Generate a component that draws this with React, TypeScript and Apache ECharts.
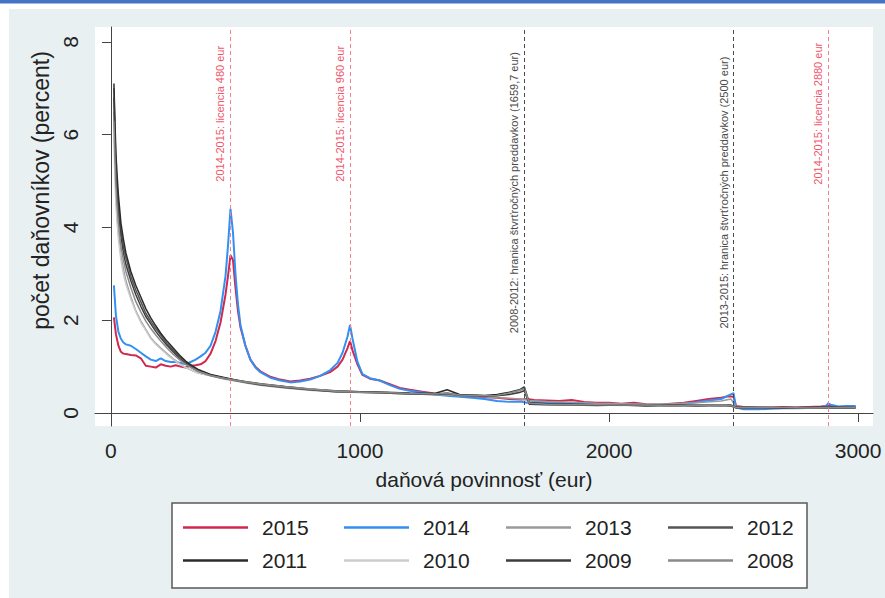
import React, { useEffect, useRef } from "react";
import * as echarts from "echarts";

const years = ["2015", "2014", "2013", "2012", "2011", "2010", "2009", "2008"];

const xColor = [12, 20, 30, 40, 50, 60, 80, 100, 120, 140, 160, 180, 200, 220, 240, 260, 280, 300, 320, 340, 360, 380, 400, 420, 440, 460, 470, 480, 490, 500, 510, 520, 540, 560, 580, 600, 640, 680, 720, 760, 800, 840, 880, 910, 930, 950, 960, 970, 990, 1010, 1040, 1080, 1120, 1160, 1200, 1250, 1300, 1350, 1400, 1450, 1500, 1550, 1600, 1650, 1670, 1700, 1750, 1800, 1850, 1900, 1950, 2000, 2050, 2100, 2150, 2200, 2250, 2300, 2350, 2400, 2450, 2480, 2500, 2510, 2540, 2600, 2650, 2700, 2750, 2800, 2850, 2870, 2880, 2890, 2920, 2960, 2990];

const v2015 = [2.06, 1.7, 1.45, 1.32, 1.28, 1.27, 1.25, 1.24, 1.18, 1.02,
  1.0, 0.98, 1.05, 1.02, 1.0, 1.03, 1.0, 0.98, 1.02, 1.03,
  1.05, 1.12, 1.28, 1.55, 1.95, 2.55, 2.95, 3.4, 3.3, 2.7,
  2.2, 1.85, 1.45, 1.15, 1.0, 0.9, 0.78, 0.72, 0.68, 0.7,
  0.74, 0.8, 0.88, 1.0, 1.15, 1.4, 1.55, 1.35, 1.05, 0.82,
  0.74, 0.7, 0.62, 0.54, 0.5, 0.46, 0.42, 0.39, 0.37, 0.36,
  0.34, 0.33, 0.3, 0.29, 0.3, 0.28, 0.27, 0.26, 0.28, 0.24,
  0.22, 0.22, 0.2, 0.22, 0.19, 0.18, 0.2, 0.22, 0.26, 0.3,
  0.33, 0.36, 0.35, 0.15, 0.13, 0.12, 0.12, 0.13, 0.12, 0.13,
  0.14, 0.15, 0.17, 0.15, 0.13, 0.14, 0.14];

const v2014 = [2.75, 2.1, 1.75, 1.6, 1.52, 1.48, 1.45, 1.38, 1.3, 1.22,
  1.15, 1.12, 1.18, 1.12, 1.1, 1.1, 1.08, 1.05, 1.1, 1.15,
  1.22, 1.3, 1.45, 1.75, 2.2, 2.95, 3.6, 4.4, 3.9, 3.0,
  2.35, 1.9, 1.45, 1.15, 0.98, 0.88, 0.76, 0.7, 0.66, 0.68,
  0.72, 0.8, 0.92, 1.08, 1.3, 1.65, 1.9, 1.6, 1.1, 0.84,
  0.75, 0.7, 0.6, 0.52, 0.48, 0.44, 0.4, 0.37, 0.35, 0.33,
  0.3, 0.26, 0.24, 0.24, 0.22, 0.24, 0.22, 0.22, 0.2, 0.21,
  0.19, 0.2, 0.18, 0.19, 0.17, 0.17, 0.18, 0.2, 0.23, 0.27,
  0.3, 0.38, 0.43, 0.12, 0.08, 0.08, 0.09, 0.1, 0.1, 0.11,
  0.12, 0.14, 0.21, 0.18, 0.14, 0.15, 0.15];

const xGrey = [12, 16, 20, 25, 30, 40, 50, 60, 80, 100, 120, 140, 160, 180, 200, 225, 250, 275, 300, 325, 350, 400, 450, 500, 550, 600, 700, 800, 900, 1000, 1100, 1200, 1300, 1350, 1400, 1500, 1550, 1600, 1640, 1660, 1680, 1750, 1850, 1950, 2050, 2150, 2250, 2350, 2450, 2490, 2510, 2600, 2700, 2800, 2900, 2990];

const v2013 = [6.5, 5.4, 4.7, 4.2, 3.85, 3.4, 3.1, 2.85, 2.5, 2.2, 1.98, 1.8, 1.62, 1.5, 1.4, 1.28, 1.17, 1.07, 0.98, 0.92, 0.86, 0.8, 0.74, 0.69, 0.64, 0.6, 0.54, 0.49, 0.46, 0.44, 0.43, 0.41, 0.4, 0.39, 0.37, 0.35, 0.33, 0.32, 0.3, 0.29, 0.27, 0.25, 0.23, 0.21, 0.2, 0.19, 0.2, 0.22, 0.26, 0.3, 0.13, 0.12, 0.11, 0.12, 0.12, 0.12];
const v2012 = [7.0, 6.1, 5.4, 4.9, 4.5, 3.95, 3.6, 3.35, 2.95, 2.65, 2.4, 2.15, 1.98, 1.82, 1.68, 1.5, 1.36, 1.22, 1.1, 1.0, 0.92, 0.82, 0.76, 0.71, 0.66, 0.62, 0.56, 0.51, 0.47, 0.46, 0.44, 0.42, 0.41, 0.43, 0.39, 0.37, 0.38, 0.42, 0.48, 0.52, 0.2, 0.19, 0.18, 0.17, 0.18, 0.16, 0.17, 0.16, 0.17, 0.16, 0.12, 0.12, 0.11, 0.12, 0.12, 0.12];
const v2011 = [7.1, 6.3, 5.6, 5.1, 4.7, 4.1, 3.75, 3.45, 3.05, 2.75, 2.5, 2.25, 2.05, 1.88, 1.72, 1.55, 1.4, 1.25, 1.12, 1.02, 0.94, 0.83, 0.77, 0.71, 0.67, 0.63, 0.57, 0.52, 0.48, 0.46, 0.45, 0.43, 0.42, 0.5, 0.4, 0.38, 0.4, 0.45, 0.5, 0.56, 0.22, 0.2, 0.19, 0.18, 0.17, 0.17, 0.16, 0.17, 0.16, 0.17, 0.13, 0.12, 0.12, 0.12, 0.13, 0.12];
const v2010 = [5.9, 5.1, 4.5, 4.1, 3.75, 3.3, 3.0, 2.78, 2.45, 2.18, 1.95, 1.78, 1.6, 1.48, 1.38, 1.26, 1.15, 1.06, 0.98, 0.92, 0.86, 0.8, 0.75, 0.7, 0.66, 0.62, 0.56, 0.51, 0.47, 0.45, 0.43, 0.41, 0.4, 0.41, 0.38, 0.36, 0.37, 0.41, 0.46, 0.5, 0.19, 0.18, 0.17, 0.17, 0.16, 0.16, 0.15, 0.16, 0.15, 0.15, 0.11, 0.11, 0.11, 0.11, 0.1, 0.11];
const v2009 = [6.8, 5.9, 5.2, 4.7, 4.3, 3.8, 3.45, 3.2, 2.85, 2.55, 2.3, 2.08, 1.92, 1.76, 1.62, 1.46, 1.32, 1.18, 1.07, 0.98, 0.9, 0.81, 0.75, 0.7, 0.65, 0.61, 0.55, 0.5, 0.46, 0.45, 0.43, 0.41, 0.4, 0.41, 0.38, 0.36, 0.37, 0.4, 0.44, 0.48, 0.19, 0.18, 0.17, 0.16, 0.17, 0.15, 0.16, 0.15, 0.16, 0.15, 0.11, 0.11, 0.1, 0.11, 0.11, 0.11];
const v2008 = [6.3, 5.5, 4.9, 4.45, 4.1, 3.6, 3.3, 3.05, 2.7, 2.4, 2.18, 1.98, 1.82, 1.68, 1.55, 1.4, 1.27, 1.15, 1.05, 0.97, 0.9, 0.81, 0.75, 0.7, 0.66, 0.62, 0.56, 0.51, 0.47, 0.45, 0.44, 0.42, 0.41, 0.42, 0.39, 0.37, 0.38, 0.43, 0.49, 0.53, 0.21, 0.19, 0.18, 0.18, 0.17, 0.17, 0.16, 0.16, 0.17, 0.16, 0.12, 0.12, 0.12, 0.11, 0.12, 0.12];

const xTicks = [0, 1000, 2000, 3000];
const yTicks = [0, 2, 4, 6, 8];

const refX = [480, 960, 1659.7, 2500, 2880];
const refLabels = [
  "2014-2015: licencia 480 eur",
  "2014-2015: licencia 960 eur",
  "2008-2012: hranica štvrťročných preddavkov (1659,7 eur)",
  "2013-2015: hranica štvrťročných preddavkov (2500 eur)",
  "2014-2015: licencia 2880 eur",
];
const refKind = ["red", "red", "black", "black", "red"];
const refLabelY = [6.45, 6.45, 4.75, 4.75, 6.45];

const FONT = "'Liberation Sans', Arial, Helvetica, sans-serif";
const colors = ["#D0284F", "#3390F2", "#9a9a9a", "#555555", "#2b2b2b", "#cccccc", "#3c3c3c", "#8a8a8a"];
const widths = [2, 2, 1.5, 1.5, 1.5, 1.5, 1.5, 1.5];

export default function App() {
  const ref = useRef<HTMLDivElement>(null);
  useEffect(() => {
    if (!ref.current) return;
    const chart = echarts.init(ref.current, null, { renderer: "svg" });
    const pair = (xs: number[], ys: number[]) => xs.map((x, i) => [x, ys[i]]);
    const datasets = [
      pair(xColor, v2015), pair(xColor, v2014),
      pair(xGrey, v2013), pair(xGrey, v2012), pair(xGrey, v2011),
      pair(xGrey, v2010), pair(xGrey, v2009), pair(xGrey, v2008),
    ];
    const colX = [183, 344, 506, 668];
    const rowY = [528, 561];
    const series: any[] = years.map((y, i) => ({
      name: y,
      type: "line",
      data: datasets[i],
      symbol: "none",
      showSymbol: false,
      lineStyle: { color: colors[i], width: widths[i] },
      itemStyle: { color: colors[i] },
      z: 3,
    }));
    series[0].markLine = {
      silent: true,
      symbol: ["none", "none"],
      label: { show: false },
      animation: false,
      data: refX.map((x, i) => ({
        xAxis: x,
        lineStyle: {
          color: refKind[i] === "red" ? "#F5808F" : "#4a4a4a",
          width: 1,
          type: [4, 3],
        },
      })),
    };
    const bgGraphics: any[] = [
      { id: "bg", type: "rect", shape: { x: 9, y: 9, width: 876, height: 589 }, style: { fill: "#E8F0F2" }, z: -10 },
      { id: "stripe", type: "rect", shape: { x: 0, y: 0, width: 885, height: 3.5 }, style: { fill: "#4472C4" }, z: -10 },
      { id: "legbox", type: "rect", shape: { x: 172, y: 503, width: 635, height: 85 }, style: { fill: "#ffffff", stroke: "#5a5a5a", lineWidth: 1.5 }, z: 0 },
    ];
    const option: any = {
      animation: false,
      backgroundColor: "#ffffff",
      textStyle: { fontFamily: FONT },
      grid: { left: 95, right: 12, top: 27, bottom: 172, show: true, backgroundColor: "#ffffff", borderWidth: 0 },
      xAxis: {
        type: "value",
        min: -64,
        max: 3060,
        name: "daňová povinnosť (eur)",
        nameLocation: "middle",
        nameGap: 43,
        nameTextStyle: { fontSize: 21, color: "#222", fontFamily: FONT },
        axisLine: { show: true, lineStyle: { color: "#444", width: 1 } },
        axisTick: { show: true, length: 9, customValues: xTicks, lineStyle: { color: "#444" } },
        axisLabel: { customValues: xTicks, fontSize: 21, color: "#222", margin: 14, fontFamily: FONT, formatter: (v: number) => String(v) },
        splitLine: { show: false },
      },
      yAxis: {
        type: "value",
        min: -0.28,
        max: 8.32,
        name: "počet daňovníkov (percent)",
        nameLocation: "middle",
        nameGap: 36,
        nameTextStyle: { fontSize: 23, color: "#222", fontFamily: FONT, padding: [0, 0, 0, 72] },
        axisLine: { show: true, lineStyle: { color: "#444", width: 1 } },
        axisTick: { show: true, length: 9, customValues: yTicks, lineStyle: { color: "#444" } },
        axisLabel: { customValues: yTicks, fontSize: 21, color: "#222", margin: 14, rotate: 90, fontFamily: FONT, formatter: (v: number) => String(v) },
        splitLine: { show: false },
      },
      legend: years.map((y, i) => ({
        data: [{ name: y, icon: "rect", itemStyle: { color: colors[i] } }],
        left: colX[i % 4],
        top: rowY[Math.floor(i / 4)] - 11,
        itemWidth: 65,
        itemHeight: 2.5,
        itemGap: 0,
        padding: 0,
        selectedMode: false,
        textStyle: { fontSize: 21, color: "#222", fontFamily: FONT, padding: [0, 0, 0, 9] },
      })),
      graphic: { elements: bgGraphics },
      series,
    };
    chart.setOption(option);
    const labelGraphics = refX.map((x, i) => {
      const p = chart.convertToPixel({ gridIndex: 0 }, [x, refLabelY[i]]) as number[];
      return {
        id: "lab" + i,
        type: "text",
        x: p[0] - 10,
        y: p[1],
        rotation: Math.PI / 2,
        z: 5,
        style: {
          text: refLabels[i],
          fontSize: 11,
          fontFamily: FONT,
          fill: refKind[i] === "red" ? "#F0566A" : "#4a4a4a",
          align: "center",
          verticalAlign: "middle",
        },
      };
    });
    chart.setOption({ graphic: { elements: [...bgGraphics, ...labelGraphics] } });
    return () => chart.dispose();
  }, []);
  return <div ref={ref} style={{ position: "absolute", left: 0, top: 0, width: 885, height: 598 }} />;
}
